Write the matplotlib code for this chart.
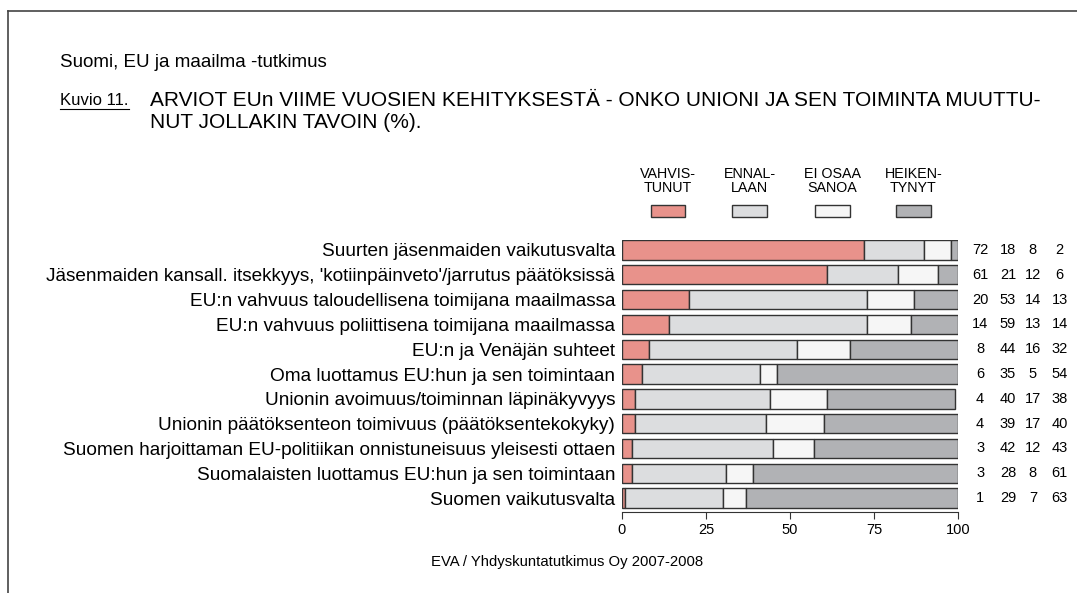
import numpy as np
import matplotlib.pyplot as plt
from matplotlib.patches import Rectangle
from matplotlib.lines import Line2D
from matplotlib import transforms

plt.rcParams['font.family'] = ['Liberation Sans', 'DejaVu Sans']

categories = [
    "Suurten jäsenmaiden vaikutusvalta",
    "Jäsenmaiden kansall. itsekkyys, 'kotiinpäinveto'/jarrutus päätöksissä",
    "EU:n vahvuus taloudellisena toimijana maailmassa",
    "EU:n vahvuus poliittisena toimijana maailmassa",
    "EU:n ja Venäjän suhteet",
    "Oma luottamus EU:hun ja sen toimintaan",
    "Unionin avoimuus/toiminnan läpinäkyvyys",
    "Unionin päätöksenteon toimivuus (päätöksentekokyky)",
    "Suomen harjoittaman EU-politiikan onnistuneisuus yleisesti ottaen",
    "Suomalaisten luottamus EU:hun ja sen toimintaan",
    "Suomen vaikutusvalta",
]
vahvistunut = [72, 61, 20, 14, 8, 6, 4, 4, 3, 3, 1]
ennallaan = [18, 21, 53, 59, 44, 35, 40, 39, 42, 28, 29]
ei_osaa = [8, 12, 14, 13, 16, 5, 17, 17, 12, 8, 7]
heikentynyt = [2, 6, 13, 14, 32, 54, 38, 40, 43, 61, 63]

series = [vahvistunut, ennallaan, ei_osaa, heikentynyt]
legend_labels = ["VAHVIS-\nTUNUT", "ENNAL-\nLAAN", "EI OSAA\nSANOA", "HEIKEN-\nTYNYT"]
colors = ["#e8928b", "#dcdddf", "#f6f6f6", "#b1b2b5"]
edge = "#333333"

fig = plt.figure(figsize=(10.77, 5.93), dpi=100)
ax = fig.add_axes([0.5775, 0.1366, 0.312, 0.4587])

y = np.arange(len(categories))
left = np.zeros(len(categories))
for vals, col in zip(series, colors):
    ax.barh(y, vals, left=left, height=0.78, color=col, edgecolor=edge, linewidth=1.0)
    left += np.array(vals)

ax.set_xlim(0, 100)
ax.set_ylim(10.56, -0.4)
ax.set_yticks(y)
ax.set_yticklabels(categories, fontsize=13.7)
ax.set_xticks([0, 25, 50, 75, 100])
ax.tick_params(axis='y', length=0, pad=5)
ax.tick_params(axis='x', labelsize=10.5, length=5, color=edge, pad=3)
for s in ['top', 'right', 'left']:
    ax.spines[s].set_visible(False)
ax.spines['bottom'].set_color(edge)

# value columns at the right
col_x = [0.910, 0.936, 0.959, 0.984]
trans = transforms.blended_transform_factory(fig.transFigure, ax.transData)
for cx, vals in zip(col_x, series):
    for yi, v in zip(y, vals):
        ax.text(cx, yi, str(v), transform=trans, ha='center', va='center', fontsize=10.5)

# legend
leg_x = [0.620, 0.696, 0.773, 0.848]
for lx, lab, col in zip(leg_x, legend_labels, colors):
    fig.patches.append(Rectangle((lx - 0.016, 0.6335), 0.032, 0.021, transform=fig.transFigure,
                                 facecolor=col, edgecolor=edge, linewidth=1.0))
    fig.text(lx, 0.672, lab, ha='center', va='bottom', fontsize=10.3, linespacing=1.0)

# texts
fig.text(0.0557, 0.894, "Suomi, EU ja maailma -tutkimus", fontsize=13.5, va='center')
fig.text(0.0557, 0.831, "Kuvio 11.", fontsize=12, va='center')
fig.add_artist(Line2D([0.0557, 0.1198], [0.816, 0.816], color='black', linewidth=0.8))
fig.text(0.1393, 0.812, "ARVIOT EUn VIIME VUOSIEN KEHITYKSESTÄ - ONKO UNIONI JA SEN TOIMINTA MUUTTU-\nNUT JOLLAKIN TAVOIN (%).",
         fontsize=15, va='center', linespacing=1.15)
fig.text(0.5265, 0.052, "EVA / Yhdyskuntatutkimus Oy 2007-2008", fontsize=10.7, ha='center', va='center')

# frame
fig.add_artist(Line2D([0.0075, 1.0], [0.981, 0.981], color='#444444', linewidth=1.2))
fig.add_artist(Line2D([0.0075, 0.0075], [0.0, 0.981], color='#444444', linewidth=1.2))

fig.savefig("out.png", dpi=100)
